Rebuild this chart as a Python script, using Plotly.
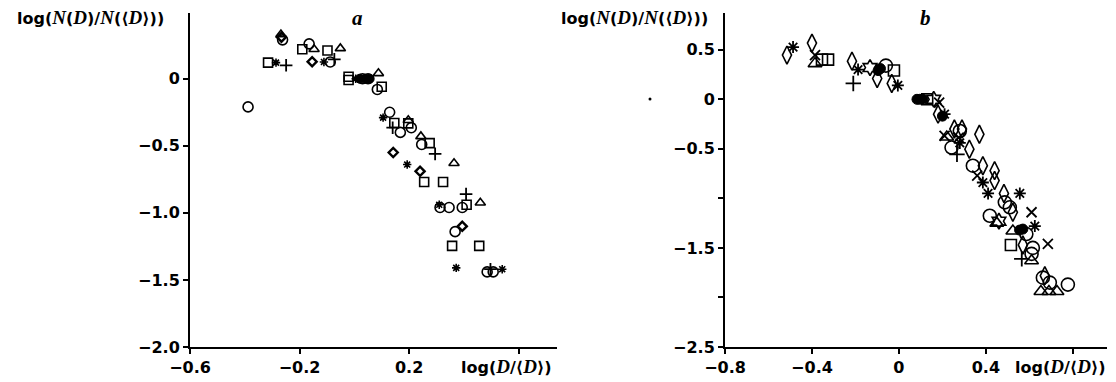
import plotly.graph_objects as go

# ---------------- panel a ----------------
a_circle_x = [-0.388, -0.262, -0.165, -0.088, 0.03, 0.05, 0.084, 0.129, 0.168, 0.208, 0.246, 0.313, 0.346, 0.394, 0.368, 0.485, 0.507]
a_circle_y = [-0.21, 0.29, 0.26, 0.125, 0.0, 0.0, -0.08, -0.25, -0.40, -0.365, -0.49, -0.96, -0.96, -0.96, -1.14, -1.44, -1.44]
a_square_x = [-0.315, -0.19, -0.098, -0.021, -0.021, 0.10, 0.146, 0.197, 0.275, 0.255, 0.324, 0.41, 0.357, 0.456]
a_square_y = [0.12, 0.22, 0.21, 0.015, -0.01, -0.06, -0.33, -0.333, -0.48, -0.77, -0.77, -0.94, -1.246, -1.246]
a_tri_x = [-0.268, -0.147, -0.051, 0.088, 0.197, 0.243, 0.364, 0.46]
a_tri_y = [0.33, 0.22, 0.226, 0.04, -0.31, -0.43, -0.63, -0.925]
a_diamond_x = [-0.266, -0.154, 0.142, 0.24, 0.394]
a_diamond_y = [0.31, 0.127, -0.55, -0.69, -1.10]
a_aster_x = [-0.286, -0.111, 0.005, 0.105, 0.193, 0.31, 0.372, 0.54]
a_aster_y = [0.12, 0.125, 0.0, -0.29, -0.64, -0.94, -1.41, -1.42]
a_plus_x = [-0.249, -0.073, 0.14, 0.295, 0.408, 0.497]
a_plus_y = [0.10, 0.145, -0.365, -0.56, -0.86, -1.42]
a_fill_x = [0.02, 0.04, 0.056]
a_fill_y = [0.0, 0.0, 0.0]

# ---------------- panel b ----------------
b_diamond_x = [-0.515, -0.40, -0.216, -0.10, -0.033, 0.18, 0.255, 0.29, 0.324, 0.37, 0.386, 0.44, 0.44, 0.483, 0.524, 0.57, 0.671]
b_diamond_y = [0.446, 0.567, 0.385, 0.21, 0.16, -0.15, -0.30, -0.30, -0.504, -0.353, -0.67, -0.72, -0.82, -0.95, -1.14, -1.47, -1.78]
b_aster_x = [-0.487, -0.188, -0.005, 0.21, 0.28, 0.386, 0.41, 0.556, 0.625]
b_aster_y = [0.527, 0.30, 0.14, -0.15, -0.44, -0.84, -0.95, -0.95, -1.28]
b_x_x = [-0.386, 0.185, 0.21, 0.275, 0.36, 0.61, 0.685]
b_x_y = [0.446, -0.034, -0.37, -0.387, -0.77, -1.14, -1.46]
b_tri_x = [-0.386, 0.22, 0.45, 0.524, 0.61, 0.653, 0.69, 0.727]
b_tri_y = [0.36, -0.38, -1.25, -1.33, -1.63, -1.94, -1.94, -1.94]
b_square_x = [-0.354, -0.326, -0.023, 0.13, 0.515]
b_square_y = [0.40, 0.40, 0.29, 0.0, -1.47]
b_circle_x = [-0.06, 0.242, 0.28, 0.34, 0.418, 0.487, 0.51, 0.586, 0.616, 0.61, 0.662, 0.694, 0.777]
b_circle_y = [0.34, -0.487, -0.32, -0.67, -1.175, -1.04, -1.09, -1.36, -1.50, -1.56, -1.80, -1.85, -1.87]
b_plus_x = [-0.21, 0.267, 0.565]
b_plus_y = [0.16, -0.555, -1.61]
b_star_x = [-0.133, 0.16, 0.46]
b_star_y = [0.32, 0.0, -1.23]
b_fill_x = [-0.096, -0.085, 0.083, 0.095, 0.11, 0.2, 0.555, 0.57]
b_fill_y = [0.29, 0.31, 0.0, 0.0, 0.0, -0.17, -1.32, -1.31]

# ticks
a_xtick_vals = [-0.6, -0.2, 0.2, 0.6]
a_xtick_text = ["\u22120.6", "\u22120.2", "0.2", ""]
a_ytick_vals = [0, -0.5, -1.0, -1.5, -2.0]
a_ytick_text = ["0", "\u22120.5", "\u22121.0", "\u22121.5", "\u22122.0"]
b_xtick_vals = [-0.8, -0.4, 0, 0.4, 0.8]
b_xtick_text = ["\u22120.8", "\u22120.4", "0", "0.4", ""]
b_ytick_vals = [0.5, 0, -0.5, -1.0, -1.5, -2.0, -2.5]
b_ytick_text = ["0.5", "0", "\u22120.5", "", "\u22121.5", "", "\u22122.5"]

fig = go.Figure()

def add(xs, ys, sym, size, lw, xa, ya, color="black"):
    fig.add_trace(go.Scatter(x=xs, y=ys, mode="markers", xaxis=xa, yaxis=ya,
                             marker=dict(symbol=sym, size=size, color=color,
                                         line=dict(color="black", width=lw)),
                             showlegend=False, hoverinfo="skip", cliponaxis=False))

add(a_circle_x, a_circle_y, "circle-open", 10, 1.6, "x", "y")
add(a_square_x, a_square_y, "square-open", 9, 1.6, "x", "y")
add(a_tri_x, a_tri_y, "triangle-up-open", 9, 1.6, "x", "y")
add(a_diamond_x, a_diamond_y, "diamond-open", 7, 2.4, "x", "y")
add(a_aster_x, a_aster_y, "asterisk-open", 7, 1.6, "x", "y")
add(a_plus_x, a_plus_y, "cross-thin-open", 9, 1.8, "x", "y")
add(a_fill_x, a_fill_y, "circle", 9, 1, "x", "y")

add(b_diamond_x, b_diamond_y, "diamond-tall-open", 13, 1.6, "x2", "y2")
add(b_aster_x, b_aster_y, "asterisk-open", 10, 1.8, "x2", "y2")
add(b_x_x, b_x_y, "x-thin-open", 10, 1.8, "x2", "y2")
add(b_tri_x, b_tri_y, "triangle-up-open", 12, 1.6, "x2", "y2")
add(b_square_x, b_square_y, "square-open", 11, 1.6, "x2", "y2")
add(b_circle_x, b_circle_y, "circle-open", 13, 1.6, "x2", "y2")
add(b_plus_x, b_plus_y, "cross-thin-open", 11, 1.8, "x2", "y2")
add(b_star_x, b_star_y, "hexagram-open", 12, 1.6, "x2", "y2")
add(b_fill_x, b_fill_y, "circle", 10, 1, "x2", "y2")

W, H = 1116, 382
def px(x):
    return x / W
def py(y):
    return 1 - y / H

tickfont = dict(family="DejaVu Sans", size=16, color="black", weight="bold")
axis_common = dict(showline=True, linecolor="black", linewidth=2, ticks="outside",
                   ticklen=5, tickwidth=1.5, tickcolor="black", showgrid=False,
                   zeroline=False, tickfont=tickfont, tickmode="array",
                   automargin=False)

fig.update_layout(
    template=None,
    width=W, height=H, autosize=False,
    margin=dict(l=0, r=0, t=0, b=0, pad=0),
    paper_bgcolor="white", plot_bgcolor="white",
    xaxis=dict(domain=[px(190), px(557)], range=[-0.6, 0.74], anchor="y",
               tickvals=a_xtick_vals, ticktext=a_xtick_text, **axis_common),
    yaxis=dict(domain=[py(347), py(13)], range=[-2.0, 0.49], anchor="x",
               tickvals=a_ytick_vals, ticktext=a_ytick_text, **axis_common),
    xaxis2=dict(domain=[px(725), px(1107)], range=[-0.8, 0.957], anchor="y2",
                tickvals=b_xtick_vals, ticktext=b_xtick_text, **axis_common),
    yaxis2=dict(domain=[py(347), py(12.5)], range=[-2.5, 0.876], anchor="x2",
                tickvals=b_ytick_vals, ticktext=b_ytick_text, **axis_common),
)

serif = "font-family:'Liberation Serif';font-size:19px"
ytitle = ("log(<span style=\"%s\"><i>N</i></span>(<span style=\"%s\"><i>D</i></span>)/"
          "<span style=\"%s\"><i>N</i></span>(\u27e8<span style=\"%s\"><i>D</i></span>\u27e9))") % (serif, serif, serif, serif)
xtitle = "log(<span style=\"%s\"><i>D</i></span>/\u27e8<span style=\"%s\"><i>D</i></span>\u27e9)" % (serif, serif)
tfont = dict(family="DejaVu Sans", size=16, color="black", weight="bold")

ann = [
    dict(x=px(90), y=py(17), text=ytitle),
    dict(x=px(634), y=py(17), text=ytitle),
    dict(x=px(506), y=py(366), text=xtitle),
    dict(x=px(1060), y=py(366), text=xtitle),
]
for a in ann:
    fig.add_annotation(xref="paper", yref="paper", xanchor="center", yanchor="middle",
                       showarrow=False, font=tfont, **a)
for lbl, xx in (("a", 357), ("b", 925)):
    fig.add_annotation(xref="paper", yref="paper", x=px(xx), y=py(18), text="<i>%s</i>" % lbl,
                       showarrow=False, xanchor="center", yanchor="middle",
                       font=dict(family="Liberation Serif", size=21, color="black", weight="bold"))

# stray dot in the scan
fig.add_shape(type="circle", xref="paper", yref="paper",
              x0=px(648.5), x1=px(651.5), y0=py(100.5), y1=py(97.5),
              fillcolor="black", line=dict(width=0))

fig.write_html("out.html")
